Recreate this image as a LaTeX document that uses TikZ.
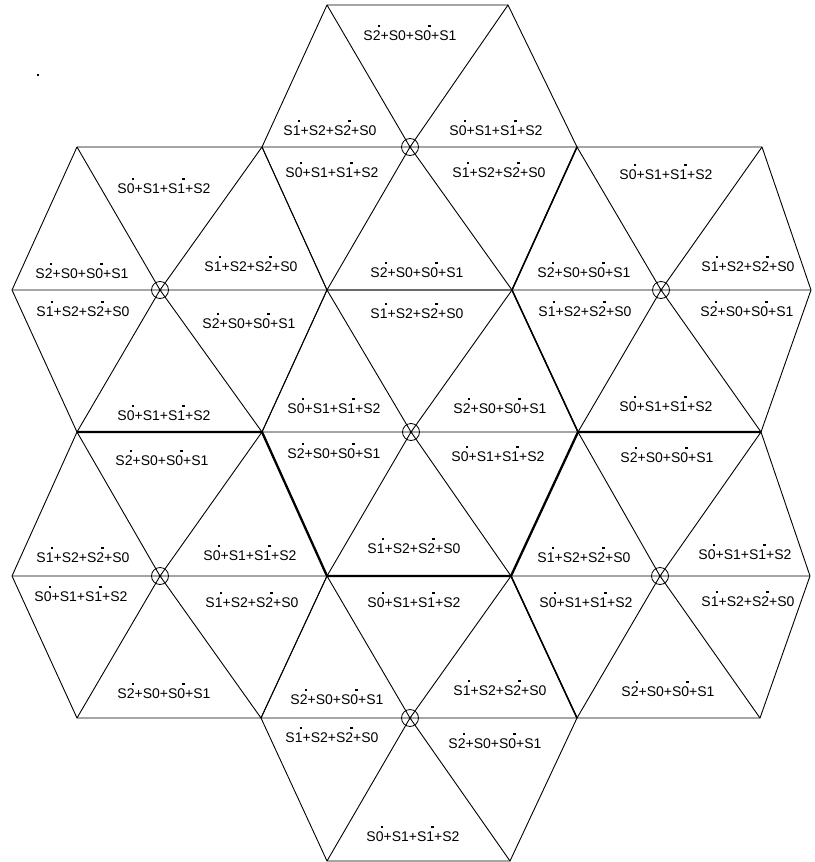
\documentclass[tikz,border=0pt]{standalone}
\usepackage{fontspec}
\setmainfont{Liberation Sans}
\newcommand\dd[1]{\makebox[0pt][l]{\hspace{0.36em}\rule[0.9em]{2.4pt}{2.4pt}}#1}
\newcommand\lab[3]{S\dd{#1}+S#2+S\dd{#2}+S#3}
\newcommand\la{\lab{2}{0}{1}}
\newcommand\lb{\lab{1}{2}{0}}
\newcommand\lc{\lab{0}{1}{2}}
\tikzset{
  edge/.style={line width=0.9pt},
  heavy/.style={line width=2.3pt},
  medium/.style={line width=1.5pt},
  hub/.style={circle,draw,line width=0.8pt,minimum size=17pt,inner sep=0pt},
  lbl/.style={inner sep=0pt,anchor=base,font=\fontsize{14}{16}\selectfont}
}
\begin{document}
\begin{tikzpicture}[x=1pt,y=-1pt]
\useasboundingbox (0,0) rectangle (814,862);
\fill[white] (0,0) rectangle (814,862);
% lattice vertices
\coordinate (A1) at (327,5);  \coordinate (A2) at (508,5);
\coordinate (B1) at (77,147); \coordinate (B2) at (262,147); \coordinate (B3) at (410,147); \coordinate (B4) at (577,147); \coordinate (B5) at (762,147);
\coordinate (C1) at (12,290); \coordinate (C2) at (160,290); \coordinate (C3) at (327,290); \coordinate (C4) at (512,290); \coordinate (C5) at (661,290); \coordinate (C6) at (811,290);
\coordinate (D1) at (77,432); \coordinate (D2) at (262,432); \coordinate (D3) at (411,432); \coordinate (D4) at (578,432); \coordinate (D5) at (761,432);
\coordinate (E1) at (12,576); \coordinate (E2) at (160,576); \coordinate (E3) at (327,576); \coordinate (E4) at (511,576); \coordinate (E5) at (660,576); \coordinate (E6) at (810,576);
\coordinate (F1) at (77,718); \coordinate (F2) at (261,718); \coordinate (F3) at (410,718); \coordinate (F4) at (577,718); \coordinate (F5) at (760,718);
\coordinate (G1) at (327,861); \coordinate (G2) at (510,861);
% hexagons
\foreach \c/\l/\r/\ul/\ur/\dl/\dr in {
  B3/B2/B4/A1/A2/C3/C4,
  C2/C1/C3/B1/B2/D1/D2,
  C5/C4/C6/B4/B5/D4/D5,
  D3/D2/D4/C3/C4/E3/E4,
  E2/E1/E3/D1/D2/F1/F2,
  E5/E4/E6/D4/D5/F4/F5,
  F3/F2/F4/E3/E4/G1/G2}{
  \draw[edge] (\l) -- (\ul) -- (\ur) -- (\r) -- (\dr) -- (\dl) -- cycle;
  \draw[edge] (\c) -- (\l) (\c) -- (\r) (\c) -- (\ul) (\c) -- (\ur) (\c) -- (\dl) (\c) -- (\dr);
  \node[hub] (hub\c) at (\c) {};
}
% heavy lines
\draw[heavy] (D1) -- (D2) -- (E3) -- (E4) -- (D4) -- (D5);
\draw[medium] (B4) -- (C4) -- (D4) (E4) -- (F4);
% speck
\node[fill,inner sep=0pt,minimum size=2.6pt] (speck) at (38,75) {};
% labels
\foreach \x/\y/\t [count=\i] in {
  410/35/\la, 330/130/\lb, 496/130/\lc,
  164/188/\lc, 332/172/\lc, 499/172/\lb, 666/174/\lc,
  82/273/\la, 251/266/\lb, 417/272/\la, 584/272/\la, 748/266/\lb,
  83/311/\lb, 249/323/\la, 417/313/\lb, 585/311/\lb, 747/311/\la,
  164/415/\lc, 334/408/\lc, 500/408/\la, 666/406/\lc,
  162/460/\la, 334/453/\la, 498/456/\lc, 667/457/\la,
  83/557/\lb, 250/555/\lc, 414/548/\lb, 584/557/\lb, 745/554/\lc,
  81/596/\lc, 252/602/\lb, 414/602/\lc, 586/602/\lc, 748/601/\lb,
  164/693/\la, 337/699/\la, 500/690/\lb, 668/691/\la,
  332/737/\lb, 495/743/\la, 413/836/\lc}{
  \node[lbl] (lab\i) at (\x,\y+5) {\t};
}
\end{tikzpicture}
\end{document}
